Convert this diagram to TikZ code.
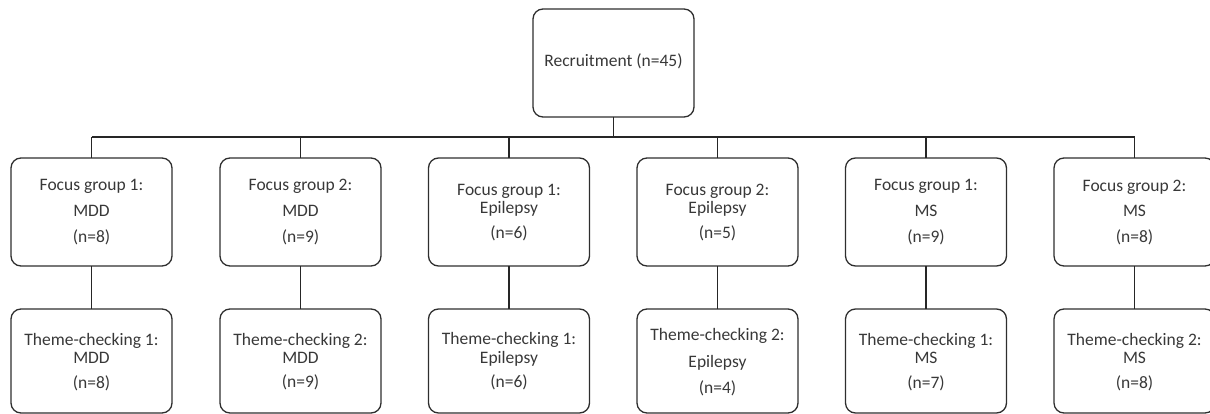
\documentclass[tikz,border=0pt]{standalone}
\usepackage{fontspec}
\setmainfont{Carlito}
\begin{document}
\begin{tikzpicture}[x=1pt,y=-1pt,
  box/.style={draw=black!82, line width=1.3pt, rounded corners=10pt, minimum width=161pt, inner sep=0pt, outer sep=0pt},
  topbox/.style={box, minimum height=108pt},
  botbox/.style={box, minimum height=104pt},
  lbl/.style={anchor=base, font=\fontsize{17.5}{20}\selectfont, text=black!78, inner sep=0pt},
  link/.style={draw=black!85, line width=1.3pt}]
\useasboundingbox (0,0) rectangle (1210,414);
\clip (0,0) rectangle (1210,414);

\node[topbox] (rec) at (613.5,63) {};
\node[lbl] (rect) at (613.5,67) {Recruitment (n=45)};

\coordinate (busL) at (91.5,137);
\coordinate (busR) at (1134.5,137);
\draw[link] (busL) -- (busR);
\draw[link] (rec.south) -- (rec.south |- busL);

\foreach \i/\x/\a/\b/\c/\ya/\yb/\yc in {
  1/91.5/{Focus group 1:}/MDD/{(n=8)}/191/216.5/242,
  2/300.5/{Focus group 2:}/MDD/{(n=9)}/191/216.5/242,
  3/509/{Focus group 1:}/Epilepsy/{(n=6)}/196/214/238,
  4/717.5/{Focus group 2:}/Epilepsy/{(n=5)}/196/214/238,
  5/926/{Focus group 1:}/MS/{(n=9)}/191/216.5/242.5,
  6/1134.5/{Focus group 2:}/MS/{(n=8)}/191.5/216.5/242.5}{
  \node[topbox] (f\i) at (\x,212) {};
  \node[lbl] (f\i a) at (\x,\ya) {\a};
  \node[lbl] (f\i b) at (\x,\yb) {\b};
  \node[lbl] (f\i c) at (\x,\yc) {\c};
  \draw[link] (f\i.north) -- (f\i.north |- busL);
}

\foreach \i/\x/\a/\b/\c/\ya/\yb/\yc in {
  1/91.5/{Theme-checking 1:}/MDD/{(n=8)}/345/363/388,
  2/300.5/{Theme-checking 2:}/MDD/{(n=9)}/345/363/387,
  3/509/{Theme-checking 1:}/Epilepsy/{(n=6)}/344/363/387,
  4/717.5/{Theme-checking 2:}/Epilepsy/{(n=4)}/340/367/393,
  5/926/{Theme-checking 1:}/MS/{(n=7)}/345/363/388,
  6/1134.5/{Theme-checking 2:}/MS/{(n=8)}/345/363/388}{
  \node[botbox] (t\i) at (\x,361) {};
  \node[lbl] (t\i a) at (\x,\ya) {\a};
  \node[lbl] (t\i b) at (\x,\yb) {\b};
  \node[lbl] (t\i c) at (\x,\yc) {\c};
  \draw[link] (f\i.south) -- (t\i.north);
}
\end{tikzpicture}
\end{document}
